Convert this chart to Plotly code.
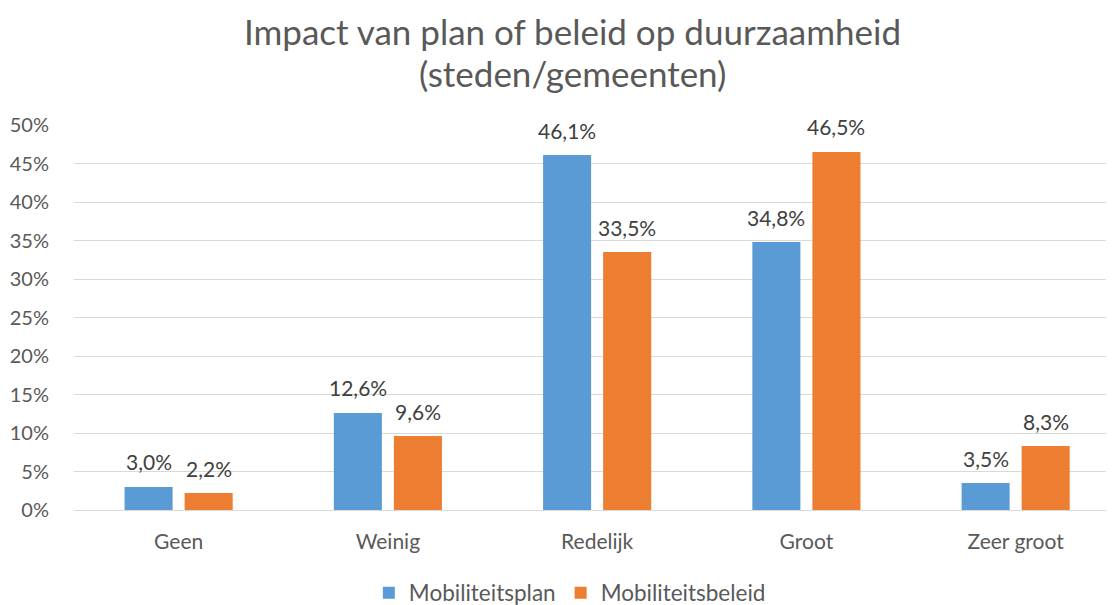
import plotly.graph_objects as go

categories = ["Geen", "Weinig", "Redelijk", "Groot", "Zeer groot"]
mobiliteitsplan = [0.030, 0.126, 0.461, 0.348, 0.035]
mobiliteitsbeleid = [0.022, 0.096, 0.335, 0.465, 0.083]
y_ticks = [0, 0.05, 0.10, 0.15, 0.20, 0.25, 0.30, 0.35, 0.40, 0.45, 0.50]
title_lines = ["Impact van plan of beleid op duurzaamheid", "(steden/gemeenten)"]

FONT = "Lato"
GREY = "#595959"
LABEL = "#404040"

fig = go.Figure()
fig.add_trace(go.Bar(
    name="Mobiliteitsplan", x=categories, y=mobiliteitsplan,
    marker=dict(color="#5b9bd5", line=dict(width=0)),
))
fig.add_trace(go.Bar(
    name="Mobiliteitsbeleid", x=categories, y=mobiliteitsbeleid,
    marker=dict(color="#ed7d31", line=dict(width=0)),
))

def fmt(v):
    return f"{v*100:.1f}%".replace(".", ",")

annotations = []
for vals, shift in ((mobiliteitsplan, -30), (mobiliteitsbeleid, 30)):
    for c, v in zip(categories, vals):
        annotations.append(dict(
            x=c, y=v, xref="x", yref="y", text=fmt(v), showarrow=False,
            xshift=shift, yshift=25, yanchor="middle", xanchor="center",
            font=dict(family=FONT, size=21, color=LABEL),
        ))
annotations.append(dict(
    x=0.479, xref="paper", y=1.302, yref="paper", text=title_lines[0],
    showarrow=False, xanchor="center", yanchor="top", borderpad=0,
    font=dict(family=FONT, size=35, color=GREY),
))
annotations.append(dict(
    x=0.479, xref="paper", y=1.136, yref="paper", text=title_lines[1],
    showarrow=False, xanchor="center", yanchor="middle",
    font=dict(family=FONT, size=35, color=GREY),
))

fig.update_layout(
    width=1106, height=597,
    separators=",.",
    paper_bgcolor="white", plot_bgcolor="white",
    margin=dict(l=66, r=0, t=117, b=95, autoexpand=False),
    barmode="group", bargap=0.426, bargroupgap=0.2,
    font=dict(family=FONT, color=GREY),
    annotations=annotations,
    legend=dict(
        orientation="h", xref="container", yref="container",
        x=0.508, xanchor="center", y=0.02, yanchor="middle",
        font=dict(family=FONT, size=22.5, color=GREY),
        itemwidth=30, tracegroupgap=0,
    ),
    showlegend=True,
)
fig.update_yaxes(
    range=[0, 0.5], tickvals=y_ticks, tickformat=".0%",
    showgrid=True, gridcolor="#d9d9d9", gridwidth=1.3,
    zeroline=True, zerolinecolor="#d9d9d9", zerolinewidth=1.3,
    showline=False, ticks="", ticklabelstandoff=24, automargin=False,
    tickfont=dict(family=FONT, size=20, color=GREY),
)
fig.update_xaxes(
    range=[-0.5, 4.47],
    showline=False, ticks="", ticklabelstandoff=17, automargin=False,
    tickfont=dict(family=FONT, size=21, color=GREY),
)

fig.write_html("out.html")
